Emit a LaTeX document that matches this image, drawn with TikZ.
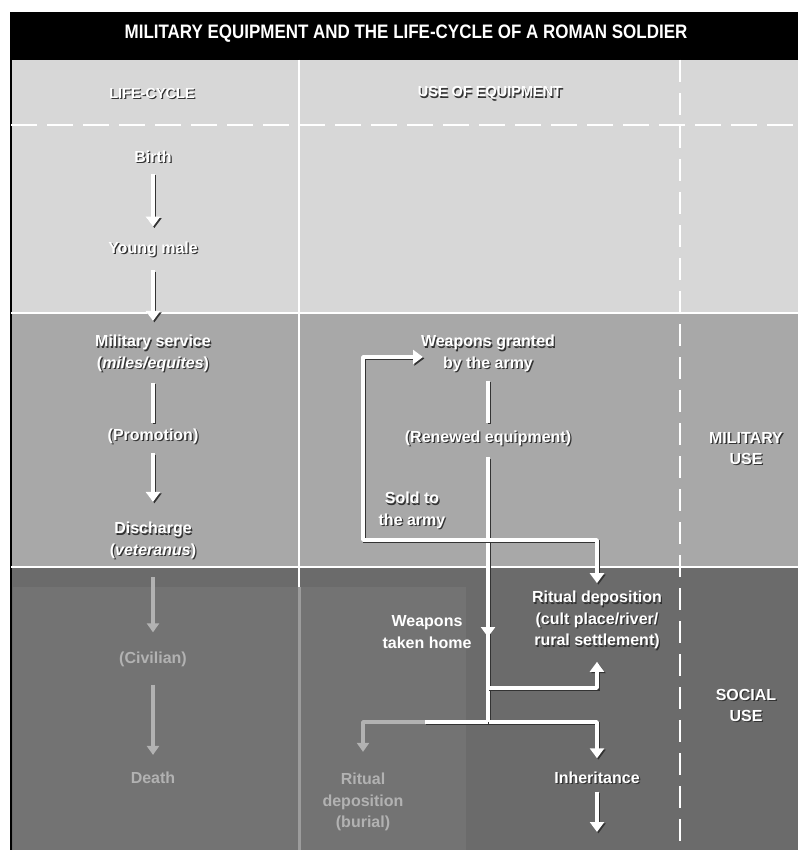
\documentclass[tikz,border=0pt]{standalone}
\usepackage{fontspec}
\setmainfont{Liberation Sans}
\newfontfamily\titlefont{Liberation Sans}[FakeStretch=0.87]
\usetikzlibrary{arrows.meta}
\definecolor{topband}{HTML}{D7D7D7}
\definecolor{midband}{HTML}{A8A8A8}
\definecolor{botband}{HTML}{6B6B6B}
\definecolor{overlayc}{HTML}{737373}
\definecolor{shadowc}{HTML}{333333}
\definecolor{faintc}{HTML}{B2B2B2}
\definecolor{fadeline}{HTML}{9C9C9C}
\newcommand\shd[1]{\leavevmode\rlap{\kern1.3pt\raisebox{-1.3pt}{\color{shadowc}#1}}#1}
\tikzset{
  lbl/.style={text=white, font=\fontsize{16}{21.5}\selectfont\bfseries, align=center, inner sep=2pt},
  hdr/.style={text=white, font=\fontsize{14.5}{17}\selectfont\bfseries, inner sep=2pt},
  flbl/.style={lbl, text=faintc},
  lineshadow/.style={preaction={draw=shadowc, line width=3.5pt, transform canvas={shift={(1.4pt,-1.4pt)}}}},
  wline/.style={draw=white, line width=3.5pt, line cap=butt, line join=round},
  arr/.style={wline, -{Triangle[width=14pt,length=10pt]}},
  farr/.style={draw=faintc, line width=3.5pt, line join=round, -{Triangle[width=12pt,length=9pt]}},
}
\begin{document}
\begin{tikzpicture}[x=1pt,y=-1pt]
\useasboundingbox (0,0) rectangle (798,850);
% background bands
\fill[white] (0,0) rectangle (798,850);
\fill[black] (10,12) rectangle (798,60);
\fill[topband] (11,60) rectangle (798,313);
\fill[midband] (11,313) rectangle (798,567);
\fill[botband] (11,567) rectangle (798,850);
\fill[overlayc] (13,587) rectangle (466,850);
\draw[black, line width=1.5pt] (11,60) -- (11,850);
\draw[white, line width=1.2pt] (11,313) -- (798,313);
\draw[white, line width=1.2pt] (11,567) -- (798,567);
\draw[white, line width=2pt, dash pattern=on 26pt off 10pt] (11,125) -- (798,125);
\draw[white, line width=2pt] (299,60) -- (299,587);
\draw[fadeline, line width=3pt] (299,587) -- (299,850);
\draw[white, line width=2pt, dash pattern=on 22pt off 11pt] (680,60) -- (680,850);

% title and headers
\node[text=white, font=\titlefont\fontsize{19.5}{20}\selectfont\bfseries] (title) at (406,34) {MILITARY EQUIPMENT AND THE LIFE-CYCLE OF A ROMAN SOLDIER};
\node[hdr] (hlife) at (152,94) {\shd{LIFE-CYCLE}};
\node[hdr] (huse) at (490,94) {\shd{USE OF EQUIPMENT}};

% life-cycle column
\node[lbl] (birth) at (153,157) {\shd{Birth}};
\node[lbl] (young) at (153,250) {\shd{Young male}};
\node[lbl] (mil) at (153,354) {\shd{Military service}\\\shd{(\textit{miles/equites})}};
\node[lbl] (prom) at (153,437) {\shd{(Promotion)}};
\node[lbl] (dis) at (153,541) {\shd{Discharge}\\\shd{(\textit{veteranus})}};
\node[flbl] (civ) at (153,659) {(Civilian)};
\node[flbl] (death) at (153,778) {Death};

\draw[arr, lineshadow, shorten <=8pt, shorten >=13pt] (birth) -- (young);
\draw[arr, lineshadow, shorten <=10pt, shorten >=12pt] (young) -- (mil);
\draw[wline, lineshadow, shorten <=8pt, shorten >=4pt] (mil) -- (prom);
\draw[arr, lineshadow, shorten <=6pt, shorten >=18pt] (prom) -- (dis);
\draw[farr, shorten <=15pt, shorten >=17pt] (dis) -- (civ);
\draw[farr, shorten <=16pt, shorten >=15pt] (civ) -- (death);

% use of equipment column
\node[lbl] (granted) at (488,354) {\shd{Weapons granted}\\\shd{by the army}};
\node[lbl] (renewed) at (488,439) {\shd{(Renewed equipment)}};
\node[lbl] (sold) at (412,511) {\shd{Sold to}\\\shd{the army}};
\node[lbl] (ritual) at (597,621) {\shd{Ritual deposition}\\\shd{(cult place/river/}\\\shd{rural settlement)}};
\node[lbl] (home) at (427,632) {Weapons\\taken home};
\node[lbl] (inherit) at (597,778) {\shd{Inheritance}};
\node[flbl] (burial) at (363,802) {Ritual\\deposition\\(burial)};

\coordinate (jA) at (488,540);
\coordinate (jB) at (488,688);
\coordinate (jC) at (488,722);
\coordinate (homeTip) at (488,637);
\coordinate (loopBL) at (363,540);
\coordinate (loopTL) at (363,357);
\coordinate (grantIn) at (423,357);
\coordinate (bfade) at (425,722);
\coordinate (inhOut) at (597,832);

\draw[wline, lineshadow, shorten <=6pt, shorten >=6pt] (granted) -- (renewed);
\draw[wline, lineshadow, shorten <=8pt] (renewed.south) -- (jC);
\draw[arr] (jA) -- (homeTip);
\draw[arr, lineshadow] (jA) -- (loopBL) -- (loopTL) -- (grantIn);
\draw[arr, lineshadow, shorten >=6pt] (jA) -| (ritual.north);
\draw[arr, lineshadow, shorten >=9pt] (jB) -| (ritual.south);
\draw[arr, lineshadow, shorten >=11pt] (jC) -| (inherit.north);
\draw[arr, lineshadow, shorten <=5pt] (inherit) -- (inhOut);
\draw[wline, lineshadow] (jC) -- (bfade);
\draw[farr, shorten >=19pt] (bfade) -| (burial.north);

% right column
\node[lbl] (miluse) at (746,449) {\shd{MILITARY}\\\shd{USE}};
\node[lbl] (socuse) at (746,706) {\shd{SOCIAL}\\\shd{USE}};
\end{tikzpicture}
\end{document}
